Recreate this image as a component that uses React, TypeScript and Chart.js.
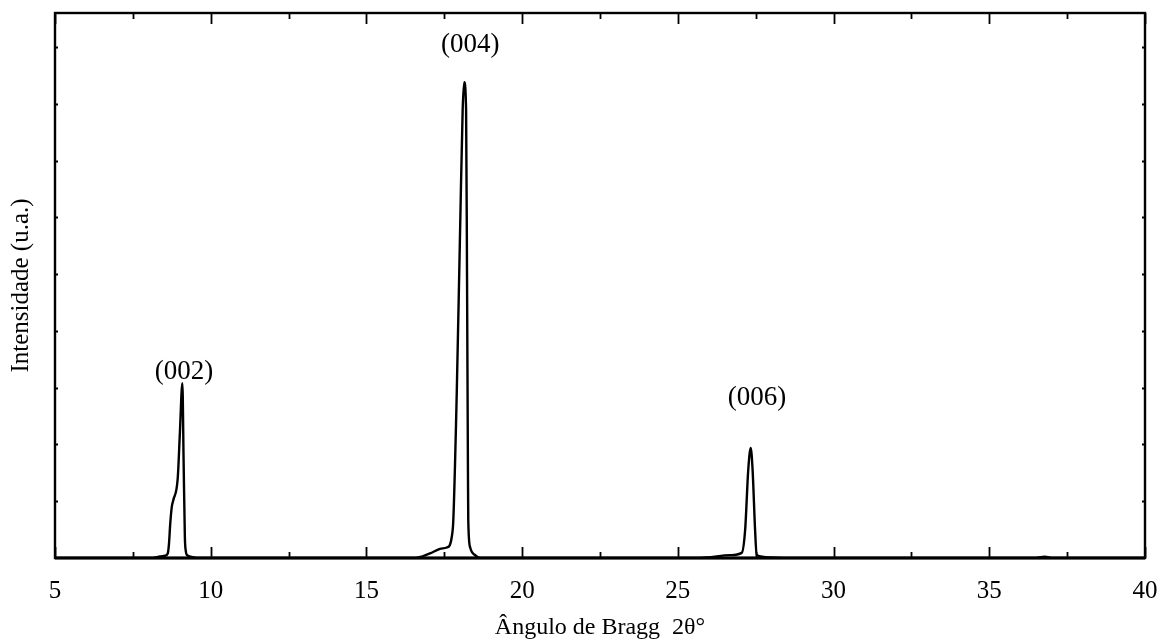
import React, { useEffect, useRef } from "react";
import { Chart, registerables } from "chart.js";

Chart.register(...registerables);

// Diffraction pattern, split by reflection (2θ in degrees, intensity in counts)
const baseAngles = [5, 6, 7, 7.5, 8.1];
const baseCounts = [0, 0, 0, 0, 0];

const peak002Angles = [8.3, 8.53, 8.62, 8.66, 8.7, 8.75, 8.8, 8.94, 9.01, 9.09, 9.13, 9.17, 9.2, 9.24, 9.39, 9.59];
const peak002Counts = [20, 40, 80, 250, 600, 900, 1020, 1400, 2200, 3080, 1700, 370, 120, 50, 20, 0];

const gap1Angles = [11, 13, 15, 16.08, 16.56];
const gap1Counts = [0, 0, 0, 0, 0];

const peak004Angles = [16.8, 17.04, 17.36, 17.58, 17.68, 17.74, 17.79, 17.9, 18.01, 18.09, 18.14, 18.2, 18.23, 18.26, 18.27, 18.33, 18.49, 18.65];
const peak004Counts = [30, 80, 160, 185, 230, 370, 670, 2900, 5840, 7890, 8380, 7900, 5000, 1500, 670, 190, 50, 0];

const gap2Angles = [20, 22, 24, 25.5];
const gap2Counts = [0, 0, 0, 0];

const peak006Angles = [25.93, 26.68, 27.05, 27.16, 27.26, 27.34, 27.4, 27.48, 27.53, 27.96, 28.5];
const peak006Counts = [10, 50, 90, 490, 1550, 1940, 1550, 490, 50, 10, 0];

const tailAngles = [30, 33, 36.5, 36.78, 37.05, 38.5, 40];
const tailCounts = [0, 0, 0, 25, 0, 0, 0];

// Miller index labels and where they sit (2θ, counts)
const reflectionLabels = ["(002)", "(004)", "(006)"];
const reflectionLabelAngles = [9.14, 18.33, 27.54];
const reflectionLabelCounts = [3280, 9040, 2820];

const X_MIN = 5;
const X_MAX = 40;
const Y_MAX = 9600;

const serif = "'Liberation Serif', 'Times New Roman', serif";

const angles = [
  ...baseAngles, ...peak002Angles, ...gap1Angles, ...peak004Angles,
  ...gap2Angles, ...peak006Angles, ...tailAngles,
];
const counts = [
  ...baseCounts, ...peak002Counts, ...gap1Counts, ...peak004Counts,
  ...gap2Counts, ...peak006Counts, ...tailCounts,
];

// Frame with inward ticks on all four sides, plus the reflection labels
const framePlugin = {
  id: "xrdFrame",
  afterDatasetsDraw(chart: any) {
    const { ctx, chartArea } = chart;
    const xs = chart.scales.x;
    const ys = chart.scales.y;
    const { left, right, top, bottom } = chartArea;
    ctx.save();
    ctx.strokeStyle = "#000";
    ctx.lineWidth = 1.8;
    for (let v = X_MIN; v <= X_MAX + 1e-9; v += 2.5) {
      const px = Math.round(xs.getPixelForValue(v)) + 0.5;
      const major = Math.abs(v / 5 - Math.round(v / 5)) < 1e-6;
      const len = major ? 11 : 6;
      ctx.beginPath();
      ctx.moveTo(px, bottom);
      ctx.lineTo(px, bottom - len);
      ctx.moveTo(px, top);
      ctx.lineTo(px, top + len);
      ctx.stroke();
    }
    for (let v = 1000; v < Y_MAX; v += 1000) {
      const py = Math.round(ys.getPixelForValue(v)) + 0.5;
      ctx.beginPath();
      ctx.moveTo(left, py);
      ctx.lineTo(left + 3, py);
      ctx.moveTo(right, py);
      ctx.lineTo(right - 3, py);
      ctx.stroke();
    }
    ctx.lineWidth = 2.4;
    ctx.strokeRect(left, top, right - left, bottom - top);
    // heavier baseline along the bottom edge
    ctx.lineWidth = 3;
    ctx.beginPath();
    ctx.moveTo(left, bottom);
    ctx.lineTo(right, bottom);
    ctx.stroke();

    ctx.fillStyle = "#000";
    ctx.font = `27px ${serif}`;
    ctx.textAlign = "center";
    ctx.textBaseline = "middle";
    reflectionLabels.forEach((label, i) => {
      ctx.fillText(
        label,
        xs.getPixelForValue(reflectionLabelAngles[i]),
        ys.getPixelForValue(reflectionLabelCounts[i])
      );
    });
    ctx.restore();
  },
};

export default function App() {
  const canvasRef = useRef<HTMLCanvasElement | null>(null);

  useEffect(() => {
    const canvas = canvasRef.current;
    if (!canvas) return;
    const chart = new Chart(canvas, {
      type: "line",
      data: {
        datasets: [
          {
            data: angles.map((a, i) => ({ x: a, y: counts[i] })),
            borderColor: "#000",
            borderWidth: 2.4,
            pointRadius: 0,
            fill: false,
            cubicInterpolationMode: "monotone",
          },
        ],
      },
      options: {
        animation: false,
        responsive: false,
        devicePixelRatio: 1,
        layout: { padding: { top: 13, right: 31, left: 0, bottom: 0 } },
        plugins: {
          legend: { display: false },
          tooltip: { enabled: false },
        },
        scales: {
          x: {
            type: "linear",
            min: X_MIN,
            max: X_MAX,
            grid: { display: false },
            border: { display: false },
            ticks: {
              stepSize: 5,
              color: "#000",
              font: { family: serif, size: 25 },
              padding: 10,
              maxRotation: 0,
            },
            title: {
              display: true,
              text: "Ângulo de Bragg  2θ°",
              color: "#000",
              font: { family: serif, size: 24 },
              padding: { top: 0, bottom: 2 },
            },
            afterFit: (scale: any) => {
              scale.height = 86;
            },
          },
          y: {
            min: 0,
            max: Y_MAX,
            grid: { display: false },
            border: { display: false },
            ticks: { display: false, stepSize: 1000 },
            title: {
              display: true,
              text: "Intensidade (u.a.)",
              color: "#000",
              font: { family: serif, size: 25 },
              padding: { top: 6, bottom: 0 },
            },
            afterFit: (scale: any) => {
              scale.width = 55;
            },
          },
        },
      },
      plugins: [framePlugin],
    });
    return () => chart.destroy();
  }, []);

  return (
    <div style={{ position: "fixed", left: 0, top: 0, width: 1176, height: 644, background: "#fff" }}>
      <canvas ref={canvasRef} width={1176} height={644} />
    </div>
  );
}
